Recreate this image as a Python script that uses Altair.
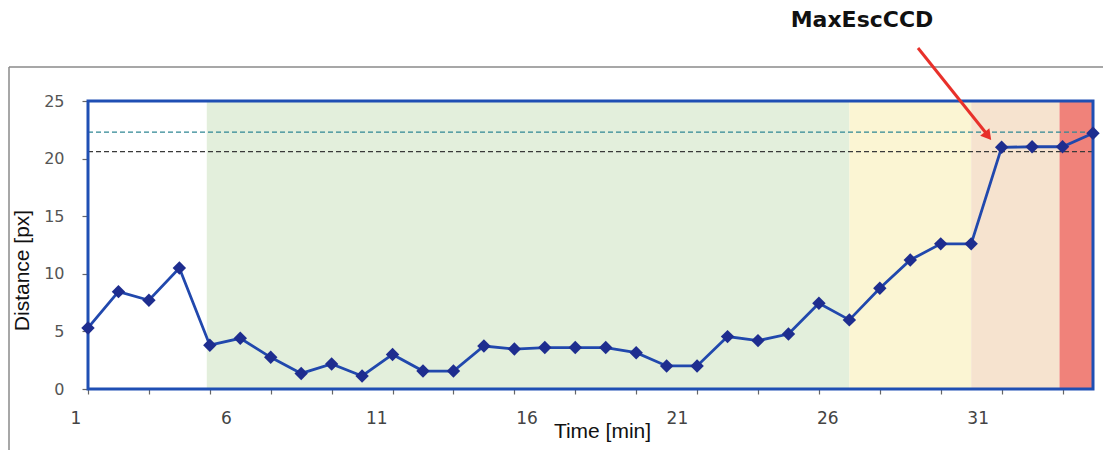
import altair as alt
import pandas as pd

# ---- data ----
time_min = list(range(1, 35))
distance_px = [5.3, 8.45, 7.7, 10.5, 3.8, 4.4, 2.75, 1.35, 2.17, 1.13,
               3.0, 1.56, 1.56, 3.73, 3.47, 3.6, 3.6, 3.6, 3.15, 2.0,
               2.0, 4.55, 4.2, 4.77, 7.44, 6.0, 8.74, 11.2, 12.6, 12.6,
               20.98, 21.03, 21.03, 22.2]

band_names = ["green", "yellow", "peach", "red"]
band_start = [4.9, 26.0, 30.0, 32.9]
band_end = [26.0, 30.0, 32.9, 34.0]
band_colors = ["#e3efdc", "#fbf5d3", "#f6e3cf", "#f0827a"]

upper_ref = [22.3]
lower_ref = [20.6]

x_tick_values = list(range(1, 35, 2))
x_label_values = [1, 6, 11, 16, 21, 26, 31]
y_tick_values = [0, 5, 10, 15, 20, 25]

W, H = 1005, 288

df = pd.DataFrame({"t": time_min, "d": distance_px})
bands = pd.DataFrame({"band": band_names, "start": band_start, "end": band_end})
xlabels = pd.DataFrame({"t": x_label_values, "lab": [str(v) for v in x_label_values]})
one = pd.DataFrame({"k": [0]})

xscale = alt.Scale(domain=[1, 34], nice=False, zero=False)
yscale = alt.Scale(domain=[0, 25], nice=False)

xaxis = alt.Axis(values=x_tick_values, labels=False, ticks=True, tickColor="#666666",
                 tickSize=5, tickWidth=1.2, domain=False, grid=False,
                 title="Time [min]", titleFont="Liberation Sans", titleFontSize=21,
                 titleFontWeight="normal", titleColor="#111111",
                 titleX=514, titleY=42, titleAlign="center", titleBaseline="middle")
yaxis = alt.Axis(values=y_tick_values, tickColor="#666666", tickSize=6, tickWidth=1.2,
                 labelColor="#555555", labelFont="DejaVu Sans", labelFontSize=16,
                 labelPadding=18, domain=False, grid=False,
                 title="Distance [px]", titleFont="Liberation Sans", titleFontSize=21,
                 titleFontWeight="normal", titleColor="#111111",
                 titleX=-66, titleY=169, titleAngle=270, titleAlign="center",
                 titleBaseline="middle")

band_layer = alt.Chart(bands).mark_rect().encode(
    x=alt.X("start:Q", scale=xscale, axis=xaxis),
    x2="end:Q",
    y=alt.value(0),
    y2=alt.value(H),
    color=alt.Color("band:N", scale=alt.Scale(domain=band_names, range=band_colors), legend=None),
)

upper_layer = alt.Chart(pd.DataFrame({"v": upper_ref})).mark_rule(
    strokeDash=[5, 3], strokeWidth=1.3, color="#2f8794").encode(
    y=alt.Y("v:Q", scale=yscale, axis=yaxis))
lower_layer = alt.Chart(pd.DataFrame({"v": lower_ref})).mark_rule(
    strokeDash=[5, 3], strokeWidth=1.3, color="#3a3a3a").encode(
    y=alt.Y("v:Q", scale=yscale, axis=yaxis))

line_layer = alt.Chart(df).mark_line(color="#2148ad", strokeWidth=2.8).encode(
    x=alt.X("t:Q", scale=xscale, axis=xaxis),
    y=alt.Y("d:Q", scale=yscale, axis=yaxis),
)

point_layer = alt.Chart(df).mark_point(shape="diamond", filled=True, size=180,
                                       color="#1e2d8f", opacity=1).encode(
    x=alt.X("t:Q", scale=xscale, axis=xaxis),
    y=alt.Y("d:Q", scale=yscale, axis=yaxis),
)

# plot border (under the data line and markers)
border = alt.Chart(one).mark_rect(fill=None, filled=False, stroke="#1f4fb4", strokeWidth=3).encode(
    x=alt.value(0), x2=alt.value(W), y=alt.value(0), y2=alt.value(H))

# annotations (pixel positions relative to the plot area)
frame_left = alt.Chart(one).mark_rule(color="#8a8a8a", strokeWidth=1.5).encode(
    x=alt.value(-79), y=alt.value(-34), y2=alt.value(H + 70))
frame_top = alt.Chart(one).mark_rule(color="#8a8a8a", strokeWidth=1.5).encode(
    x=alt.value(-79), x2=alt.value(W + 20), y=alt.value(-34))

arrow_line = alt.Chart(one).mark_rule(color="#e8302a", strokeWidth=3).encode(
    x=alt.value(830), y=alt.value(-53), x2=alt.value(898), y2=alt.value(32))
arrow_head = alt.Chart(one).mark_point(shape="triangle-up", filled=True, size=140,
                                       color="#e8302a", opacity=1, angle=141).encode(
    x=alt.value(900), y=alt.value(35))
title_text = alt.Chart(one).mark_text(text="MaxEscCCD", font="DejaVu Sans", fontSize=22,
                                      fontWeight="bold", color="#111111").encode(
    x=alt.value(774), y=alt.value(-81))

main = alt.layer(band_layer, upper_layer, lower_layer, border, line_layer, point_layer,
                 frame_left, frame_top, arrow_line, arrow_head, title_text)

label_layer = alt.Chart(xlabels).mark_text(font="DejaVu Sans", fontSize=17,
                                           color="#444444", baseline="middle").encode(
    x=alt.X("t:Q", scale=alt.Scale(domain=[1.399, 34.82], nice=False, zero=False), axis=None),
    y=alt.value(H + 30),
    text="lab:N",
)

chart = alt.layer(main, label_layer).resolve_scale(x="independent").properties(
    width=W, height=H,
    padding={"left": 80, "top": 93, "right": 10, "bottom": 61},
    autosize=alt.AutoSizeParams(type="none"),
).configure_view(stroke=None)

chart.save("out.html", embed_options={"renderer": "svg", "actions": False})
